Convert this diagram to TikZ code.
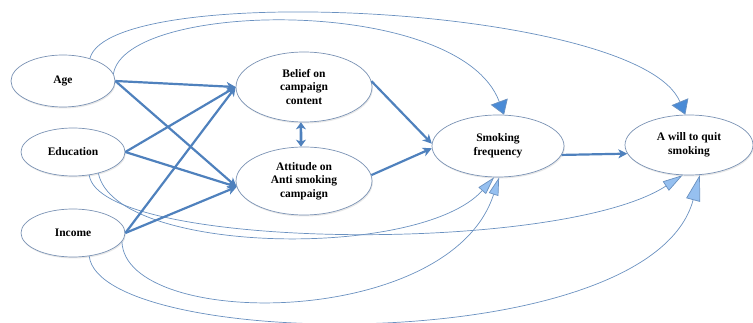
\documentclass[tikz,border=0pt]{standalone}
\usepackage{fontspec}
\setmainfont{Liberation Serif}
\usetikzlibrary{shapes.geometric,arrows.meta,shadows}
\definecolor{thick}{RGB}{79,129,189}
\definecolor{thin}{RGB}{106,145,192}
\definecolor{rim}{RGB}{122,146,180}
\definecolor{headdark}{RGB}{74,139,214}
\definecolor{headlight}{RGB}{150,192,240}
\tikzset{
  var/.style={ellipse, draw=rim, line width=0.7pt, fill=white, inner sep=0pt,
    align=center, font=\bfseries\fontsize{11.5}{13.5}\selectfont,
    drop shadow={opacity=0.18, shadow xshift=0.8pt, shadow yshift=-1.5pt}},
  thickarrow/.style={draw=thick, line width=2.2pt, -{Stealth[length=9pt,width=9pt,inset=2.5pt]}},
  thincurve/.style={draw=thin, line width=0.7pt},
  toptip/.style={-{Triangle[length=14pt,width=18pt,fill=headdark]}},
  lowtip/.style={-{Triangle[length=#1,width=0.55*#1,fill=headlight]}},
  dblarrow/.style={draw=thick, line width=2.6pt,
    {Stealth[length=7pt,width=10pt,inset=2pt]}-{Stealth[length=7pt,width=10pt,inset=2pt]}},
}
\begin{document}
\begin{tikzpicture}[x=1pt,y=1pt]
\useasboundingbox (0,0) rectangle (753,-323);
% nodes
\node[var, minimum width=104pt, minimum height=52pt] (age) at (63,-81) {Age};
\node[var, minimum width=104pt, minimum height=48pt] (edu) at (73,-152) {Education};
\node[var, minimum width=104pt, minimum height=48pt] (inc) at (73,-233) {Income};
\node[var, minimum width=136pt, minimum height=70pt] (bel) at (304,-87) {Belief on\\campaign\\content};
\node[var, minimum width=136pt, minimum height=68pt] (att) at (304,-181) {Attitude on\\Anti smoking\\campaign};
\node[var, minimum width=132pt, minimum height=62pt] (smk) at (498,-146) {Smoking\\frequency};
\node[var, minimum width=128pt, minimum height=60pt] (wil) at (689,-145) {A will to quit\\smoking};
% thin curved paths
\draw[thincurve, toptip] (age.40) .. controls (110,20) and (640,-5) .. (wil.97);
\draw[thincurve, toptip] (age.8) .. controls (125,0) and (460,5) .. (smk.79);
\draw[thincurve, lowtip=18pt] (edu.320) .. controls (115,-255) and (420,-260) .. (smk.263);
\draw[thincurve, lowtip=20pt] (edu.305) .. controls (100,-250) and (560,-255) .. (wil.258);
\draw[thincurve, lowtip=18pt] (inc.350) .. controls (125,-330) and (450,-330) .. (smk.272);
\draw[thincurve, lowtip=26pt] (inc.305) .. controls (100,-350) and (650,-360) .. (wil.290);
% thick paths
\draw[thickarrow] (age.east) -- (bel.180);
\draw[thickarrow] (age.east) -- (att.185);
\draw[thickarrow] (edu.east) -- (bel.180);
\draw[thickarrow] (edu.east) -- (att.185);
\draw[thickarrow] (inc.east) -- (bel.180);
\draw[thickarrow] (inc.east) -- (att.185);
\draw[dblarrow] (bel.265) -- (att.95);
\draw[thickarrow] (bel.5) -- (smk.178);
\draw[thickarrow] (att.5) -- (smk.182);
\draw[thickarrow] (smk.352) -- (wil.188);
\end{tikzpicture}
\end{document}
